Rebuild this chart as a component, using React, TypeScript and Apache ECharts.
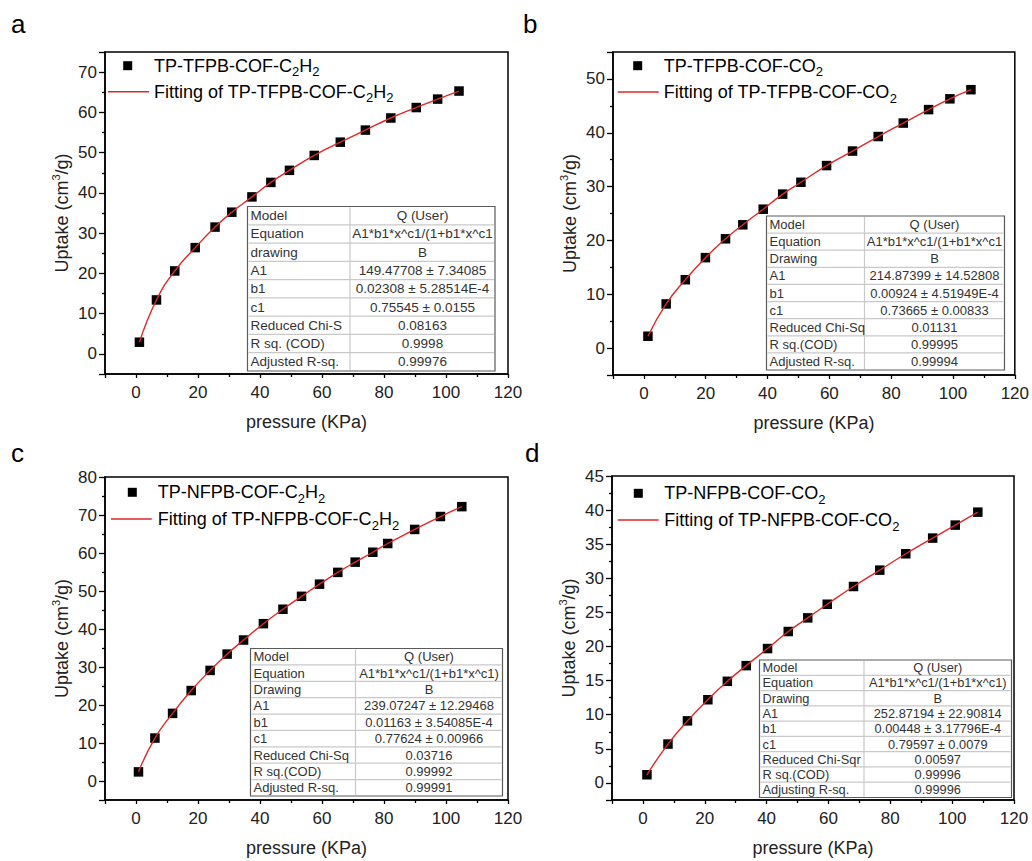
import React, { useEffect, useRef } from "react";
import * as echarts from "echarts";

const FONT = "'Liberation Sans', Arial, Helvetica, sans-serif";
const RED = "#e22628";

// ---------- data ----------
const aPressure = [1.1, 6.6, 12.5, 19.1, 25.5, 30.9, 37.4, 43.5, 49.5, 57.5, 65.9, 74.0, 82.2, 90.4, 97.3, 104.2];
const aUptake = [2.9, 13.4, 20.6, 26.4, 31.5, 35.2, 39.0, 42.6, 45.6, 49.3, 52.6, 55.6, 58.6, 61.2, 63.3, 65.3];

const bPressure = [1.3, 7.2, 13.4, 19.9, 26.4, 32.0, 38.6, 44.9, 50.8, 59.1, 67.5, 75.8, 83.9, 92.1, 99.0, 105.8];
const bUptake = [2.2, 8.2, 12.7, 16.8, 20.3, 22.9, 25.8, 28.6, 30.8, 33.9, 36.6, 39.3, 41.8, 44.3, 46.3, 48.0];

const cPressure = [0.8, 6.1, 11.8, 17.8, 23.9, 29.4, 34.7, 41.1, 47.4, 53.4, 59.2, 65.1, 70.7, 76.4, 81.2, 89.9, 98.2, 105.1];
const cUptake = [2.4, 11.3, 17.8, 23.8, 29.1, 33.4, 37.1, 41.4, 45.2, 48.6, 51.8, 54.9, 57.6, 60.2, 62.5, 66.2, 69.6, 72.2];

const dPressure = [1.3, 8.1, 14.4, 21.0, 27.3, 33.4, 40.3, 47.0, 53.3, 59.6, 68.1, 76.6, 85.0, 93.7, 101.0, 108.3];
const dUptake = [1.2, 5.7, 9.1, 12.2, 14.9, 17.2, 19.7, 22.2, 24.2, 26.2, 28.8, 31.2, 33.6, 35.9, 37.8, 39.7];

const panelLetters = ["a", "b", "c", "d"];
const sampleNames = [
  "{n|TP-TFPB-COF-C}{s|2}{n|H}{s|2}",
  "{n|TP-TFPB-COF-CO}{s|2}",
  "{n|TP-NFPB-COF-C}{s|2}{n|H}{s|2}",
  "{n|TP-NFPB-COF-CO}{s|2}",
];
const fitNames = [
  "{n|Fitting of TP-TFPB-COF-C}{s|2}{n|H}{s|2}",
  "{n|Fitting of TP-TFPB-COF-CO}{s|2}",
  "{n|Fitting of TP-NFPB-COF-C}{s|2}{n|H}{s|2}",
  "{n|Fitting of TP-NFPB-COF-CO}{s|2}",
];

const xAxisName = "pressure (KPa)";
const yAxisName = "{a|Uptake (cm}{b|3}{a|/g)}";

const tableLabelsA = ["Model", "Equation", "drawing", "A1", "b1", "c1", "Reduced Chi-S", "R sq. (COD)", "Adjusted R-sq."];
const tableValuesA = ["Q (User)", "A1*b1*x^c1/(1+b1*x^c1", "B", "149.47708 ± 7.34085", "0.02308 ± 5.28514E-4", "0.75545 ± 0.0155", "0.08163", "0.9998", "0.99976"];
const tableLabelsB = ["Model", "Equation", "Drawing", "A1", "b1", "c1", "Reduced Chi-Sq", "R sq.(COD)", "Adjusted R-sq."];
const tableValuesB = ["Q (User)", "A1*b1*x^c1/(1+b1*x^c1", "B", "214.87399 ± 14.52808", "0.00924 ± 4.51949E-4", "0.73665 ± 0.00833", "0.01131", "0.99995", "0.99994"];
const tableLabelsC = ["Model", "Equation", "Drawing", "A1", "b1", "c1", "Reduced Chi-Sq", "R sq.(COD)", "Adjusted R-sq."];
const tableValuesC = ["Q (User)", "A1*b1*x^c1/(1+b1*x^c1)", "B", "239.07247 ± 12.29468", "0.01163 ± 3.54085E-4", "0.77624 ± 0.00966", "0.03716", "0.99992", "0.99991"];
const tableLabelsD = ["Model", "Equation", "Drawing", "A1", "b1", "c1", "Reduced Chi-Sqr", "R sq.(COD)", "Adjusting R-sq."];
const tableValuesD = ["Q (User)", "A1*b1*x^c1/(1+b1*x^c1)", "B", "252.87194 ± 22.90814", "0.00448 ± 3.17796E-4", "0.79597 ± 0.0079", "0.00597", "0.99996", "0.99996"];

// ---------- layout ----------
const panels = [
  {
    x: aPressure, y: aUptake, labels: tableLabelsA, values: tableValuesA,
    grid: { left: 105, top: 52, width: 403, height: 322 },
    yMin: -5, yMax: 75, yStep: 10,
    letter: { x: 11, y: 24 },
    legend: { mx: 127.7, my: 65.7, lx1: 108, lx2: 149, ly: 91.7, tx: 154 },
    table: { left: 247.5, top: 206.5, width: 247.5, height: 164.5, split: 102.5, fs: 13.5 },
  },
  {
    x: bPressure, y: bUptake, labels: tableLabelsB, values: tableValuesB,
    grid: { left: 613, top: 52, width: 403, height: 323 },
    yMin: -5, yMax: 55, yStep: 10,
    letter: { x: 523, y: 24 },
    legend: { mx: 637.7, my: 65.7, lx1: 617.7, lx2: 658.7, ly: 92, tx: 663.7 },
    table: { left: 766.5, top: 216, width: 238, height: 154, split: 98, fs: 13 },
  },
  {
    x: cPressure, y: cUptake, labels: tableLabelsC, values: tableValuesC,
    grid: { left: 105, top: 477, width: 403, height: 323 },
    yMin: -5, yMax: 80, yStep: 10,
    letter: { x: 11, y: 452.7 },
    legend: { mx: 132.3, my: 492.3, lx1: 111, lx2: 151.7, ly: 519, tx: 157.7 },
    table: { left: 250.5, top: 648.5, width: 252, height: 147.5, split: 105, fs: 13 },
  },
  {
    x: dPressure, y: dUptake, labels: tableLabelsD, values: tableValuesD,
    grid: { left: 612, top: 476, width: 402, height: 324 },
    yMin: -2.5, yMax: 45, yStep: 5,
    letter: { x: 525, y: 452.7 },
    legend: { mx: 638.3, my: 493.3, lx1: 617.7, lx2: 658.7, ly: 520, tx: 664.3 },
    table: { left: 759.5, top: 660, width: 252, height: 137.5, split: 104.5, fs: 12.8 },
  },
];

const legendRich = {
  n: { fontSize: 18, lineHeight: 25, fontFamily: FONT, color: "#111" },
  s: { fontSize: 13, lineHeight: 13, verticalAlign: "bottom", fontFamily: FONT, color: "#111" },
};

function buildTable(t: any, labels: string[], values: string[]) {
  const els: any[] = [];
  const rh = t.height / labels.length;
  els.push({
    type: "rect", z: 100,
    shape: { x: t.left, y: t.top, width: t.width, height: t.height },
    style: { fill: "#fff", stroke: "#5a5a5a", lineWidth: 1.2 },
  });
  for (let r = 1; r < labels.length; r++) {
    els.push({
      type: "line", z: 101,
      shape: { x1: t.left + 1, y1: t.top + r * rh, x2: t.left + t.width - 1, y2: t.top + r * rh },
      style: { stroke: "#c9c9c9", lineWidth: 1.2 },
    });
  }
  els.push({
    type: "line", z: 101,
    shape: { x1: t.left + t.split, y1: t.top + 1, x2: t.left + t.split, y2: t.top + t.height - 1 },
    style: { stroke: "#c9c9c9", lineWidth: 1.2 },
  });
  labels.forEach((lab, r) => {
    const cy = t.top + r * rh + rh / 2;
    els.push({
      type: "text", z: 102,
      style: { text: lab, x: t.left + 3, y: cy, fill: "#333", fontSize: t.fs, fontFamily: FONT, textAlign: "left", textVerticalAlign: "middle" },
    });
    els.push({
      type: "text", z: 102,
      style: { text: values[r], x: t.left + t.split + (t.width - t.split) / 2, y: cy, fill: "#333", fontSize: t.fs, fontFamily: FONT, textAlign: "center", textVerticalAlign: "middle" },
    });
  });
  return els;
}

export default function App() {
  const ref = useRef<HTMLDivElement>(null);
  useEffect(() => {
    if (!ref.current) return;
    const chart = echarts.init(ref.current, undefined, { renderer: "svg" });

    const grid = panels.map((p) => ({
      left: p.grid.left, top: p.grid.top, width: p.grid.width, height: p.grid.height,
      show: true, borderColor: "#000", borderWidth: 1.5, backgroundColor: "transparent",
    }));

    const xAxis = panels.map((p, i) => ({
      type: "value", gridIndex: i, min: -10, max: 120, splitNumber: 6, minInterval: 20, maxInterval: 20,
      axisLine: { show: true, onZero: false, lineStyle: { color: "#000", width: 1.5 } },
      axisTick: { show: true, inside: false, length: 4, lineStyle: { color: "#000", width: 1.3 } },
      minorTick: { show: true, splitNumber: 2, length: 3, lineStyle: { color: "#000", width: 1.3 } },
      splitLine: { show: false }, minorSplitLine: { show: false },
      axisLabel: { showMinLabel: false, fontSize: 17, color: "#222", margin: 10, fontFamily: FONT },
      name: xAxisName, nameLocation: "middle", nameGap: 39,
      nameTextStyle: { fontSize: 18, color: "#222", fontFamily: FONT },
    }));

    const yAxis = panels.map((p, i) => ({
      type: "value", gridIndex: i, min: p.yMin, max: p.yMax,
      splitNumber: Math.round((p.yMax - p.yMin) / p.yStep), minInterval: p.yStep, maxInterval: p.yStep,
      axisLine: { show: true, onZero: false, lineStyle: { color: "#000", width: 1.5 } },
      axisTick: { show: true, inside: false, length: 6, lineStyle: { color: "#000", width: 1.3 } },
      minorTick: { show: true, splitNumber: 2, length: 3, lineStyle: { color: "#000", width: 1.3 } },
      splitLine: { show: false }, minorSplitLine: { show: false },
      axisLabel: {
        showMinLabel: false, showMaxLabel: p.yMax % p.yStep === 0,
        fontSize: 17, color: "#222", margin: 8, fontFamily: FONT,
      },
      name: yAxisName, nameLocation: "middle", nameGap: 31, nameRotate: 90,
      nameTextStyle: {
        fontSize: 18, color: "#222", fontFamily: FONT,
        rich: {
          a: { fontSize: 18, lineHeight: 24, fontFamily: FONT, color: "#222" },
          b: { fontSize: 11, lineHeight: 11, verticalAlign: "top", fontFamily: FONT, color: "#222" },
        },
      },
    }));

    const series: any[] = [];
    panels.forEach((p, i) => {
      const pts = p.x.map((v, k) => [v, p.y[k]]);
      series.push({
        type: "scatter", name: "data-" + panelLetters[i], xAxisIndex: i, yAxisIndex: i,
        data: pts, symbol: "rect", symbolSize: 9.5, itemStyle: { color: "#000", opacity: 1 }, z: 2,
      });
      series.push({
        type: "line", name: "fit-" + panelLetters[i], xAxisIndex: i, yAxisIndex: i,
        data: pts, smooth: true, symbol: "none", lineStyle: { color: RED, width: 1.4, opacity: 1 }, z: 3,
      });
    });

    const graphic: any[] = [];
    panels.forEach((p, i) => {
      graphic.push({
        type: "text", z: 110,
        style: { text: panelLetters[i], x: p.letter.x, y: p.letter.y, fill: "#000", fontSize: 26, fontFamily: FONT, textAlign: "left", textVerticalAlign: "middle" },
      });
      const L = p.legend;
      graphic.push({
        type: "rect", z: 110,
        shape: { x: L.mx - 4.5, y: L.my - 4.5, width: 9, height: 9 },
        style: { fill: "#000" },
      });
      graphic.push({
        type: "line", z: 110,
        shape: { x1: L.lx1, y1: L.ly, x2: L.lx2, y2: L.ly },
        style: { stroke: RED, lineWidth: 1.5 },
      });
      graphic.push({
        type: "text", z: 110,
        style: { text: sampleNames[i], x: L.tx, y: L.my, rich: legendRich, textAlign: "left", textVerticalAlign: "middle" },
      });
      graphic.push({
        type: "text", z: 110,
        style: { text: fitNames[i], x: L.tx, y: L.ly, rich: legendRich, textAlign: "left", textVerticalAlign: "middle" },
      });
      graphic.push(...buildTable(p.table, p.labels, p.values));
    });

    chart.setOption({
      animation: false,
      backgroundColor: "#fff",
      textStyle: { fontFamily: FONT },
      grid, xAxis, yAxis, series, graphic,
    });
    return () => chart.dispose();
  }, []);

  return (
    <div
      ref={ref}
      style={{ position: "fixed", left: 0, top: 0, width: 1032, height: 861, background: "#fff" }}
    />
  );
}
